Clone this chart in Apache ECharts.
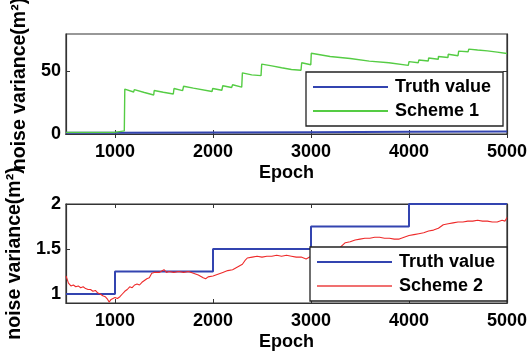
<!DOCTYPE html>
<html>
<head>
<meta charset="utf-8">
<script src="https://cdn.jsdelivr.net/npm/echarts@6/dist/echarts.min.js"></script>
<style>
html,body{margin:0;padding:0;background:#fff;}
#c{width:529px;height:355px;}
</style>
</head>
<body>
<div id="c"></div>
<script>
// ---- data ----
const truthEpochs = [500, 1000, 2000, 3000, 4000, 5000];
const truthValues = [1, 1.25, 1.5, 1.75, 2, 2];

const scheme1Epochs = [500, 995, 1000, 1095, 1100, 1190, 1197, 1300, 1395, 1400, 1493, 1500, 1595, 1602, 1690, 1700, 1800, 1990, 1997, 2090, 2100, 2190, 2200, 2293, 2300, 2395, 2400, 2490, 2497, 2600, 2700, 2800, 2805, 2898, 2905, 2998, 3003, 3195, 3200, 3400, 3595, 3600, 3795, 3800, 3993, 4000, 4095, 4100, 4197, 4200, 4299, 4300, 4398, 4400, 4500, 4507, 4603, 4610, 4700, 4800, 4900, 5000];
const scheme1Values = [1.3, 1.3, 2.5, 2.5, 35.9, 33.6, 35.5, 33.2, 31.2, 34.8, 33.4, 34.6, 32.0, 36.4, 34.7, 38.2, 36.7, 34.0, 36.4, 35.0, 38.6, 37.2, 39.4, 37.5, 48.9, 47.3, 48.6, 46.7, 55.9, 54.5, 53.0, 51.6, 52.4, 51.0, 57.0, 55.4, 64.6, 62.0, 63.3, 60.4, 58.3, 59.0, 57.0, 57.6, 54.9, 57.9, 57.0, 59.2, 58.4, 60.8, 59.8, 62.0, 61.2, 63.8, 62.6, 66.3, 65.8, 67.9, 67.2, 66.5, 65.5, 64.4];

const scheme2Epochs = [500, 510, 525, 550, 575, 600, 625, 650, 675, 700, 725, 750, 775, 800, 825, 850, 875, 900, 925, 940, 960, 1000, 1025, 1050, 1075, 1100, 1125, 1150, 1175, 1200, 1225, 1250, 1275, 1300, 1325, 1350, 1375, 1400, 1450, 1500, 1525, 1550, 1600, 1650, 1700, 1750, 1800, 1850, 1900, 1925, 1950, 2000, 2050, 2100, 2150, 2200, 2250, 2300, 2325, 2350, 2400, 2450, 2500, 2550, 2600, 2650, 2700, 2750, 2800, 2850, 2900, 2950, 3000, 3050, 3100, 3150, 3200, 3250, 3300, 3350, 3400, 3450, 3500, 3550, 3600, 3650, 3700, 3750, 3800, 3850, 3900, 3950, 4000, 4050, 4100, 4150, 4200, 4250, 4300, 4350, 4400, 4450, 4500, 4550, 4600, 4650, 4700, 4750, 4800, 4850, 4900, 4950, 4980, 5000];
const scheme2Values = [1.20, 1.17, 1.12, 1.09, 1.10, 1.08, 1.09, 1.07, 1.08, 1.06, 1.05, 1.05, 1.03, 1.04, 1.01, 1.00, 0.98, 0.97, 0.94, 0.91, 0.94, 0.96, 0.95, 0.97, 1.00, 1.03, 1.05, 1.08, 1.07, 1.10, 1.11, 1.10, 1.13, 1.15, 1.17, 1.18, 1.23, 1.24, 1.24, 1.27, 1.24, 1.25, 1.24, 1.25, 1.24, 1.25, 1.23, 1.21, 1.18, 1.17, 1.19, 1.20, 1.22, 1.24, 1.26, 1.27, 1.30, 1.33, 1.37, 1.40, 1.41, 1.42, 1.41, 1.42, 1.42, 1.43, 1.42, 1.43, 1.42, 1.41, 1.41, 1.39, 1.42, 1.43, 1.44, 1.46, 1.47, 1.49, 1.52, 1.57, 1.58, 1.60, 1.61, 1.62, 1.62, 1.63, 1.63, 1.62, 1.62, 1.61, 1.61, 1.63, 1.65, 1.66, 1.67, 1.68, 1.70, 1.71, 1.73, 1.77, 1.78, 1.79, 1.80, 1.80, 1.81, 1.81, 1.82, 1.81, 1.81, 1.80, 1.80, 1.82, 1.81, 1.85];

const xTicks = [1000, 2000, 3000, 4000, 5000];
const yTicksTop = [0, 50];
const yTicksBottom = [1, 1.5, 2];

// ---- chart ----
const FONT = '"Liberation Sans", Arial, sans-serif';
const BLUE = '#3344b0', GREEN = '#55cc44', RED = '#ee2a2a', FRAME = '#333';
const zip = (xs, ys) => xs.map((x, i) => [x, ys[i]]);
const plain = v => String(v);

function xAx(grid, primary) {
  return {
    type: 'value', gridIndex: grid, min: 500, max: 5000,
    position: primary ? 'bottom' : 'top',
    name: primary ? 'Epoch' : '', nameLocation: 'middle', nameGap: 30,
    nameTextStyle: { fontFamily: FONT, fontWeight: 'bold', fontSize: 18, color: '#000' },
    axisLine: { show: true, lineStyle: { color: FRAME, width: 1.2 } },
    axisTick: { show: true, inside: true, length: 4, customValues: xTicks, lineStyle: { color: FRAME } },
    axisLabel: { show: primary, customValues: xTicks, formatter: plain, margin: 9, fontFamily: FONT, fontWeight: 'bold', fontSize: 18, color: '#000' },
    splitLine: { show: false }
  };
}
function yAx(grid, primary, min, max, ticks) {
  return {
    type: 'value', gridIndex: grid, min: min, max: max,
    position: primary ? 'left' : 'right',
    name: primary ? 'noise variance(m²)' : '', nameLocation: 'middle', nameGap: 36,
    nameTextStyle: { fontFamily: FONT, fontWeight: 'bold', fontSize: 19.5, color: '#000' },
    axisLine: { show: true, lineStyle: { color: FRAME, width: 1.2 } },
    axisTick: { show: true, inside: true, length: 4, customValues: ticks, lineStyle: { color: FRAME } },
    axisLabel: { show: primary, customValues: ticks, formatter: plain, margin: 5, fontFamily: FONT, fontWeight: 'bold', fontSize: 18, color: '#000' },
    splitLine: { show: false }
  };
}
function legend(names, left, top) {
  return {
    data: names, orient: 'vertical', left: left, top: top,
    icon: 'rect', itemWidth: 75, itemHeight: 2, itemGap: 6,
    padding: [6, 12, 6, 7],
    backgroundColor: '#fff', borderColor: '#222', borderWidth: 1.3,
    textStyle: { fontFamily: FONT, fontWeight: 'bold', fontSize: 18, color: '#000', padding: [0, 0, 0, 2] },
    selectedMode: false
  };
}

const chart = echarts.init(document.getElementById('c'), null, { renderer: 'canvas' });
chart.setOption({
  animation: false,
  backgroundColor: '#fff',
  grid: [
    { left: 66, right: 22, top: 34, height: 100, show: true, borderColor: FRAME, borderWidth: 1.2, backgroundColor: 'transparent', outerBoundsMode: 'none', containLabel: false },
    { left: 66, right: 22, top: 204, height: 99, show: true, borderColor: FRAME, borderWidth: 1.2, backgroundColor: 'transparent', outerBoundsMode: 'none', containLabel: false }
  ],
  xAxis: [xAx(0, true), xAx(0, false), xAx(1, true), xAx(1, false)],
  yAxis: [yAx(0, true, 0, 80, yTicksTop), yAx(0, false, 0, 80, yTicksTop),
          yAx(1, true, 0.9, 2, yTicksBottom), yAx(1, false, 0.9, 2, yTicksBottom)],
  legend: [legend(['Truth value', 'Scheme 1'], 306, 72), legend(['Truth value', 'Scheme 2'], 310, 247)],
  series: [
    { name: 'Truth value', type: 'line', xAxisIndex: 0, yAxisIndex: 0, step: 'end', symbol: 'none',
      data: zip(truthEpochs, truthValues), lineStyle: { color: BLUE, width: 2 }, itemStyle: { color: BLUE }, z: 2 },
    { name: 'Scheme 1', type: 'line', xAxisIndex: 0, yAxisIndex: 0, symbol: 'none',
      data: zip(scheme1Epochs, scheme1Values), lineStyle: { color: GREEN, width: 1.4 }, itemStyle: { color: GREEN }, z: 3 },
    { name: 'Truth value', type: 'line', xAxisIndex: 2, yAxisIndex: 2, step: 'end', symbol: 'none',
      data: zip(truthEpochs, truthValues), lineStyle: { color: BLUE, width: 2 }, itemStyle: { color: BLUE }, z: 2 },
    { name: 'Scheme 2', type: 'line', xAxisIndex: 2, yAxisIndex: 2, symbol: 'none',
      data: zip(scheme2Epochs, scheme2Values), lineStyle: { color: RED, width: 1.1 }, itemStyle: { color: '#f07070' }, z: 3 }
  ]
});
</script>
</body>
</html>
